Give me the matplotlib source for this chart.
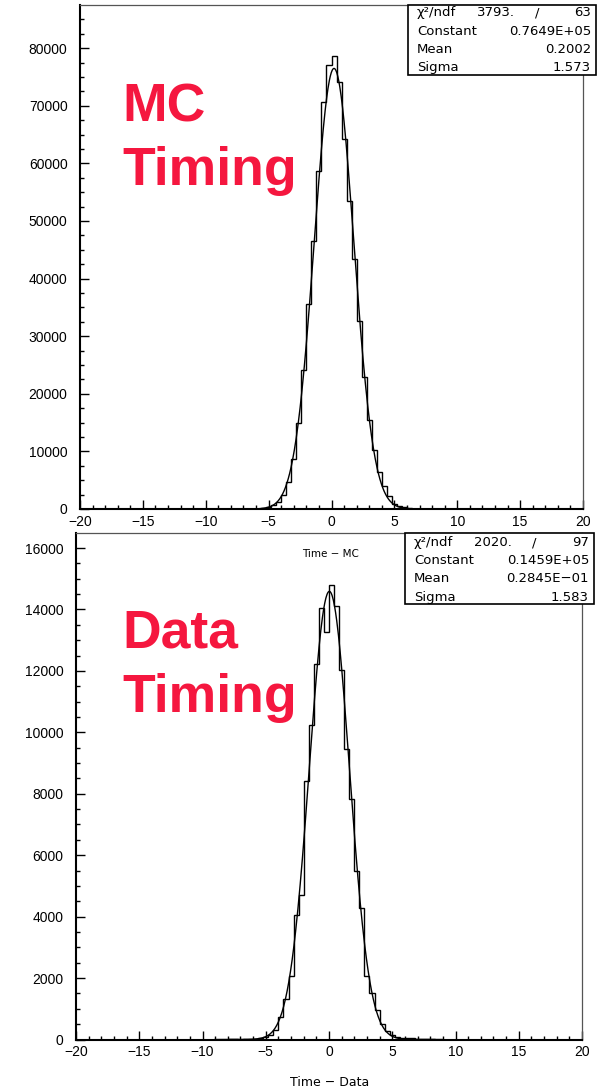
import matplotlib.pyplot as plt
import numpy as np

W, H = 598, 1091

# bin edges: 100 bins of 0.4 from -20 to 20
edges = np.linspace(-20, 20, 101)

# MC timing histogram, counts for bins starting at -6.4 (step 0.4)
mc_start = -6.4
mc_counts = [20, 50, 130, 320, 700, 1300, 2400, 4700, 8700, 14900,
             24100, 35600, 46500, 58600, 70600, 77100, 78600, 74200, 64200, 53500,
             43400, 32600, 23000, 15500, 10300, 6500, 4000, 2300, 900, 500,
             300, 150, 60, 20]

# Data timing histogram, counts for bins starting at -8.0 (step 0.4)
data_start = -8.0
data_counts = [10, 30, 0, 20, 10, 30, 50, 80, 150, 310,
               720, 1320, 2080, 4050, 4700, 8420, 10230, 12210, 14040, 13270,
               14790, 14110, 12030, 9460, 7820, 5490, 4270, 2080, 1520, 960,
               490, 290, 140, 90, 60, 50, 40, 30, 20, 20,
               10]

# gaussian fit parameters (from the stats boxes)
mc_fit = (0.7649e5, 0.2002, 1.573)
data_fit = (0.1459e5, 0.2845e-01, 1.583)

mc_stats = [("χ²/ndf", "3793.", "63"), ("Constant", "0.7649E+05"),
            ("Mean", "0.2002"), ("Sigma", "1.573")]
data_stats = [("χ²/ndf", "2020.", "97"), ("Constant", "0.1459E+05"),
              ("Mean", "0.2845E−01"), ("Sigma", "1.583")]


def fill(start, counts):
    vals = np.zeros(len(edges) - 1)
    i0 = int(round((start + 20) / 0.4))
    vals[i0:i0 + len(counts)] = counts
    return vals


def fx(px):
    return px / W


def fy(py):
    return 1 - py / H


def setup_axes(rect, ymax, ymajor, yminor):
    l, t, r, b = rect
    ax = fig.add_axes([fx(l), fy(b), fx(r) - fx(l), fy(t) - fy(b)])
    ax.set_xlim(-20, 20)
    ax.set_ylim(0, ymax)
    ax.set_xticks(np.arange(-20, 21, 5))
    ax.set_xticks(np.arange(-20, 21, 1), minor=True)
    ax.set_yticks(np.arange(0, ymax, ymajor))
    ax.set_yticks(np.arange(0, ymax, yminor), minor=True)
    ax.set_xticklabels([str(v).replace('-', '\u2212') for v in range(-20, 21, 5)])
    ax.tick_params(which='both', direction='in', top=False, right=False,
                   labelsize=10, color='black')
    ax.tick_params(which='major', length=6.5, width=1.0)
    ax.tick_params(which='minor', length=3.2, width=1.0)
    ax.tick_params(axis='y', pad=9)
    ax.tick_params(axis='x', pad=4)
    for s in ['left', 'bottom']:
        ax.spines[s].set_linewidth(1.5)
    for s in ['top', 'right']:
        ax.spines[s].set_linewidth(0.9)
        ax.spines[s].set_color('#555555')
    return ax


def stats_box(box, rows, values):
    l, t, r, b = box
    fig.add_artist(plt.Rectangle((fx(l), fy(b)), fx(r) - fx(l), fy(t) - fy(b),
                                 transform=fig.transFigure, fill=True,
                                 facecolor='white', edgecolor='black', lw=1.2))
    kw = dict(fontsize=9.5, va='baseline', family='DejaVu Sans')
    for (yy, row) in zip(rows, values):
        yb = fy(yy + 3)
        fig.text(fx(l + 9), yb, row[0], ha='left', **kw)
        if len(row) == 3:
            fig.text(fx(l + 69), yb, row[1], ha='left', **kw)
            fig.text(fx(l + 129), yb, "/", ha='center', **kw)
            fig.text(fx(r - 5), yb, row[2], ha='right', **kw)
        else:
            fig.text(fx(r - 5), yb, row[1], ha='right', **kw)


plt.rcParams['font.family'] = ['Liberation Sans', 'DejaVu Sans']
fig = plt.figure(figsize=(W / 100, H / 100), dpi=100)

red = '#f5173f'
big = dict(transform=fig.transFigure, color=red, fontsize=38.5,
           fontweight='bold', va='baseline')

# top panel: MC
ax1 = setup_axes((80, 5, 583, 509), 87500, 10000, 2500)
ax1.stairs(fill(mc_start, mc_counts), edges, color='black', lw=1.0)
xf = np.linspace(-7.5, 7.5, 400)
A, mu, sg = mc_fit
ax1.plot(xf, A * np.exp(-0.5 * ((xf - mu) / sg) ** 2), color='black', lw=1.0)
ax1.text(fx(122), fy(122), "MC", **big)
ax1.text(fx(122), fy(185), "Timing", **big)

# bottom panel: Data
ax2 = setup_axes((76, 533, 582, 1039.5), 16490, 2000, 500)
ax2.stairs(fill(data_start, data_counts), edges, color='black', lw=1.0)
xf = np.linspace(-9, 9, 400)
A, mu, sg = data_fit
ax2.plot(xf, A * np.exp(-0.5 * ((xf - mu) / sg) ** 2), color='black', lw=1.0)
ax2.text(fx(122), fy(648), "Data", **big)
ax2.text(fx(122), fy(712), "Timing", **big)

stats_box((408, 5, 596, 75), [13, 32, 50, 68], mc_stats)
stats_box((405, 533, 594, 604), [543, 561, 579, 598], data_stats)

fig.text(fx(330), fy(554), "Time \u2212 MC", fontsize=7.5, ha='center', va='center',
         family='DejaVu Sans')
fig.text(fx(330), fy(1082), "Time \u2212 Data", fontsize=9, ha='center', va='center',
         family='DejaVu Sans')

fig.savefig('out.png', dpi=100)
